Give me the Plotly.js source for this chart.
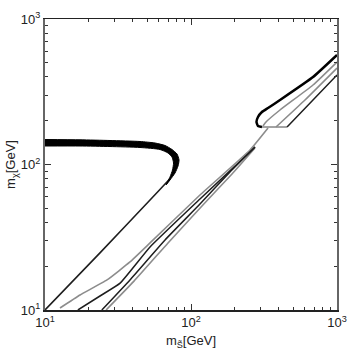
<!DOCTYPE html>
<html><head><meta charset="utf-8">
<script src="https://cdn.plot.ly/plotly-3.0.1.min.js"></script>
<style>html,body{margin:0;padding:0;background:#fff}#c{width:349px;height:354px}</style>
</head><body><div id="c"></div>
<script>
// Thick black band (upper branch, outer edge then inner edge)
const bandX = [10, 17.37, 27.88, 44.75, 56.67, 66.37, 74.12, 80.2, 82.8, 81.5, 77.7, 71.82, 67.42,
               71.82, 74.7, 75.9, 74.12, 69.58, 61.33, 44.75, 27.88, 17.37, 10];
const bandY = [148.5, 147.8, 146.2, 143.9, 140.5, 135.1, 126.8, 118.1, 107.4, 97.7, 87.4, 78.3, 72.3,
               82.1, 91.7, 102.4, 112.6, 120, 126.8, 130.9, 132.9, 134.0, 134.0];
// Lower branch of the black curve
const lowX = [10, 23.8, 52.4, 66.4, 72];
const lowY = [10, 24.7, 57, 73.5, 80];
// Gray curve G1
const g1X = [12.67, 17.37, 26.6, 38.2, 52.4, 115.2, 253.6, 337];
const g1Y = [10.32, 12.68, 16.1, 21.4, 28.9, 61.7, 125.8, 178];
// Dark curve D2
const d2X = [16.8, 23.8, 32.7, 52.4, 115.2, 253.6, 274.4];
const d2Y = [10, 12.48, 15.3, 27.1, 57.9, 121.9, 131.9];
// Dark curve D3
const d3X = [24.5, 38.2, 66.4, 115.2, 184.9, 274.4];
const d3Y = [10, 16.1, 30.3, 53.5, 88.8, 131.9];
// Gray curve G3
const g3X = [26.2, 40.7, 69.6, 118.9, 190.9, 274.4];
const g3Y = [10, 15.8, 28.9, 51.9, 86.0, 129.8];
// Upper-right wedge
const upX = [306, 287.6, 280.9, 287.6, 306, 337, 407, 685, 1000];
const upY = [181, 183.9, 196, 212.1, 229.6, 244.5, 277.5, 399, 566];
const inX = [311.3, 326.4, 407, 685, 1000];
const inY = [183.9, 196, 236.9, 351.9, 506];
const botX = [297, 455];
const botY = [181, 181];
const midX = [382.1, 603.6, 1000];
const midY = [181, 277.5, 460];
const lowArmX = [455, 674.5, 1000];
const lowArmY = [181, 273, 412];

const majorVals = [10, 100, 1000];
const majorText = ['10<sup>1</sup>', '10<sup>2</sup>', '10<sup>3</sup>'];
const minorVals = [20,30,40,50,60,70,80,90,200,300,400,500,600,700,800,900];

const GRAY = '#8c8c8c', DARK = '#1e1e1e';
function ln(x, y, color, w) {
  return {x: x, y: y, type: 'scatter', mode: 'lines', line: {color: color, width: w, shape: 'spline', smoothing: 0.4}, hoverinfo: 'skip', showlegend: false};
}
const traces = [
  ln(g1X, g1Y, GRAY, 1.6),
  ln(g3X, g3Y, GRAY, 1.6),
  ln(d2X, d2Y, DARK, 1.5),
  ln(d3X, d3Y, DARK, 1.5),
  ln(midX, midY, GRAY, 1.6),
  ln(inX, inY, GRAY, 1.6),
  ln(botX, botY, GRAY, 1.6),
  ln(lowArmX, lowArmY, DARK, 1.5),
  ln(upX, upY, '#000', 2.5),
  ln(lowX, lowY, DARK, 1.6),
  {x: bandX, y: bandY, type: 'scatter', mode: 'lines', fill: 'toself', fillcolor: '#000',
   line: {color: '#000', width: 1, shape: 'spline', smoothing: 0.6}, hoverinfo: 'skip', showlegend: false}
];

function axis(title, lc, lw) {
  return {
    type: 'log', range: [1, 3], showgrid: false, zeroline: false,
    showline: true, linecolor: lc, linewidth: lw, mirror: 'ticks',
    ticks: 'inside', ticklen: 6, tickwidth: 1, tickcolor: '#333',
    tickmode: 'array', tickvals: majorVals, ticktext: majorText,
    tickfont: {family: 'Liberation Sans, Arial, sans-serif', size: 13, color: '#222'},
    minor: {tickmode: 'array', tickvals: minorVals, ticks: 'inside', ticklen: 3, tickcolor: '#333', tickwidth: 1},
    title: {text: title, font: {family: 'Liberation Sans, Arial, sans-serif', size: 13, color: '#222'}, standoff: 7}
  };
}
const layout = {
  width: 349, height: 354,
  margin: {l: 45, r: 12, t: 19, b: 44},
  paper_bgcolor: '#fff', plot_bgcolor: '#fff',
  xaxis: axis('m<sub>S\u0303</sub>[GeV]', '#222', 1.5),
  yaxis: axis('m<sub>\u03c7</sub>[GeV]', '#666', 2),
  showlegend: false
};
layout.yaxis.title.standoff = 2;
Plotly.newPlot('c', traces, layout, {staticPlot: true, displayModeBar: false});
</script></body></html>
